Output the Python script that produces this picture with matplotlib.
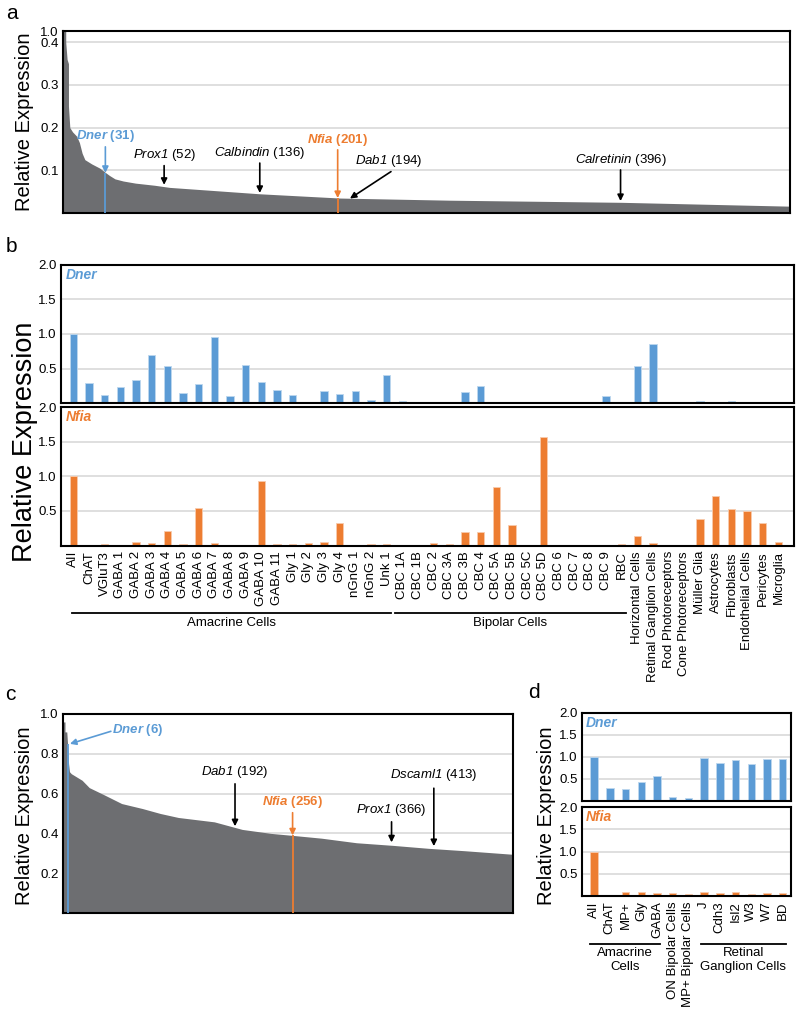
import numpy as np
import matplotlib
matplotlib.use('Agg')
import matplotlib.pyplot as plt

plt.rcParams['font.family'] = ['Liberation Sans', 'DejaVu Sans']
plt.rcParams['mathtext.fontset'] = 'custom'
# gene names are italic, digits inside them too
plt.rcParams['mathtext.rm'] = 'Liberation Sans:italic'
plt.rcParams['mathtext.it'] = 'Liberation Sans:italic'
plt.rcParams['mathtext.bf'] = 'Liberation Sans:bold:italic'

AZUL = '#5B9BD5'
NARANJA = '#ED7D31'
GRIS = '#6D6E71'
GRILLA = '#D9D9D9'

# --- panel a: genes sorted by relative expression (outline of the ranked curve)
rank_a = [0, 2, 2, 3, 4, 4, 5, 7, 10, 12, 14, 16, 21, 27, 31, 34, 38, 44, 53,
          67, 78, 144, 203, 283, 409, 532]
expr_a = [1.0, 1.0, 0.40, 0.36, 0.35, 0.25, 0.20, 0.19, 0.18, 0.165, 0.14,
          0.125, 0.115, 0.105, 0.095, 0.088, 0.08, 0.075, 0.07, 0.065, 0.06,
          0.045, 0.035, 0.030, 0.025, 0.016]
genes_a = ['Dner', 'Prox1', 'Calbindin', 'Nfia', 'Dab1', 'Calretinin']
generank_a = [31, 52, 136, 201, 194, 396]
geneexpr_a = [0.094, 0.066, 0.047, 0.035, 0.034, 0.028]

# --- panel b: expression per cell type
tipos_b = ['AII', 'ChAT', 'VGluT3', 'GABA 1', 'GABA 2', 'GABA 3', 'GABA 4', 'GABA 5',
           'GABA 6', 'GABA 7', 'GABA 8', 'GABA 9', 'GABA 10', 'GABA 11', 'Gly 1',
           'Gly 2', 'Gly 3', 'Gly 4', 'nGnG 1', 'nGnG 2', 'Unk 1',
           'CBC 1A', 'CBC 1B', 'CBC 2', 'CBC 3A', 'CBC 3B', 'CBC 4', 'CBC 5A',
           'CBC 5B', 'CBC 5C', 'CBC 5D', 'CBC 6', 'CBC 7', 'CBC 8', 'CBC 9', 'RBC',
           'Horizontal Cells', 'Retinal Ganglion Cells', 'Rod Photoreceptors',
           'Cone Photoreceptors', 'Müller Glia', 'Astrocytes', 'Fibroblasts',
           'Endothelial Cells', 'Pericytes', 'Microglia']
dner_b = [1.0, 0.29, 0.12, 0.23, 0.34, 0.69, 0.53, 0.14, 0.28, 0.96, 0.10, 0.55,
          0.31, 0.19, 0.11, 0.0, 0.18, 0.13, 0.18, 0.05, 0.40,
          0.03, 0.0, 0.0, 0.0, 0.16, 0.24, 0.0, 0.0, 0.0, 0.0, 0.0, 0.0, 0.015,
          0.10, 0.0, 0.53, 0.86, 0.0, 0.0, 0.034, 0.0, 0.025, 0.0, 0.0, 0.0]
nfia_b = [1.0, 0.0, 0.025, 0.0, 0.045, 0.035, 0.21, 0.025, 0.54, 0.035, 0.01, 0.01,
          0.93, 0.02, 0.025, 0.035, 0.045, 0.32, 0.01, 0.02, 0.025,
          0.0, 0.005, 0.03, 0.02, 0.20, 0.19, 0.84, 0.30, 0.0, 1.56, 0.0, 0.0, 0.01,
          0.0, 0.015, 0.13, 0.03, 0.0, 0.01, 0.38, 0.72, 0.53, 0.50, 0.33, 0.05]
grupos_b = ['Amacrine Cells', 'Bipolar Cells']
gruporango_b = [(-0.1, 20.3), (20.5, 35.3)]

# --- panel c: second dataset, ranked curve
rank_c = [1, 3, 3, 5, 6, 7, 8, 10, 22, 30, 46, 66, 89, 109, 129, 169, 200, 232,
          256, 288, 327, 367, 407, 447, 501]
expr_c = [0.96, 0.96, 0.91, 0.91, 0.84, 0.75, 0.71, 0.70, 0.667, 0.63, 0.595,
          0.55, 0.525, 0.50, 0.48, 0.458, 0.42, 0.40, 0.39, 0.376, 0.353, 0.34,
          0.325, 0.313, 0.295]
genes_c = ['Dner', 'Dab1', 'Nfia', 'Prox1', 'Dscaml1']
generank_c = [6, 192, 256, 366, 413]
geneexpr_c = [0.85, 0.436, 0.39, 0.355, 0.336]

# --- panel d
tipos_d = ['AII', 'ChAT', 'MP+', 'Gly', 'GABA', 'ON Bipolar Cells',
           'MP+ Bipolar Cells', 'J', 'Cdh3', 'Isl2', 'W3', 'W7', 'BD']
dner_d = [1.0, 0.29, 0.27, 0.42, 0.56, 0.09, 0.07, 0.98, 0.86, 0.93, 0.84, 0.95, 0.95]
nfia_d = [1.0, 0.015, 0.10, 0.09, 0.06, 0.06, 0.04, 0.09, 0.06, 0.09, 0.045, 0.06, 0.06]
grupos_d = ['Amacrine\nCells', 'Retinal\nGanglion Cells']
gruporango_d = [(-0.23, 4.2), (6.8, 12.2)]

W, H = 800, 1011
fig = plt.figure(figsize=(W / 100, H / 100), dpi=100)


def caja(l, t, r, b):
    return fig.add_axes([l / W, 1 - b / H, (r - l) / W, (b - t) / H])


def estilo(ax, ticks, labels):
    ax.set_yticks(ticks)
    ax.set_yticklabels(labels)
    ax.tick_params(length=0, labelsize=9.5, pad=3)
    ax.grid(axis='y', color=GRILLA, lw=1.2)
    ax.set_axisbelow(True)
    for s in ax.spines.values():
        s.set_linewidth(1.5)


def flecha(ax, tail, tip, color='black'):
    ax.annotate('', xy=tip, xytext=tail,
                arrowprops=dict(arrowstyle='-|>', color=color, lw=1.2,
                                mutation_scale=9, shrinkA=0, shrinkB=0))


def etiqueta(gen, rango, color=None):
    if color is None:
        return r'$\mathit{%s}$ (%d)' % (gen, rango)
    return r'$\mathbf{%s}$ (%d)' % (gen, rango)


# ---------------- a
ax = caja(63, 31, 790, 213)
ax.fill_between(rank_a, expr_a, color=GRIS, lw=0)
ax.set_xlim(0, 532)
ax.set_ylim(0, 0.4265)
ax.set_xticks([])
estilo(ax, [0.1, 0.2, 0.3, 0.4, 0.4265], ['0.1', '0.2', '0.3', '0.4', '1.0'])
ax.vlines(generank_a[0], 0, geneexpr_a[0], color=AZUL, lw=1.3, zorder=3)
ax.vlines(generank_a[3], 0, geneexpr_a[3], color=NARANJA, lw=1.3, zorder=3)
# break marks on the y axis
for yy in [0.405, 0.414]:
    ax.plot([-0.006, 0.006], [yy - 0.004, yy + 0.004], color='black', lw=1,
            clip_on=False, zorder=5)

# (text x, text y, tail, tip x, color)
pos_a = [(31, 0.162, (31, 0.155), None, AZUL),
         (74, 0.117, (74, 0.111), None, None),
         (144, 0.122, (144, 0.117), None, None),
         (201, 0.153, (201, 0.148), None, NARANJA),
         (238, 0.103, (240, 0.097), 210, None),
         (408, 0.106, (408, 0.101), None, None)]
for i, (tx, ty, tail, tipx, col) in enumerate(pos_a):
    kw = dict(color=col, fontweight='bold') if col else dict(color='black')
    ax.text(tx, ty, etiqueta(genes_a[i], generank_a[i], col), ha='center',
            va='bottom', fontsize=9.5, **kw)
    if tipx is None:
        tipx = tail[0]
    flecha(ax, tail, (tipx, geneexpr_a[i]), col or 'black')

# ---------------- b
ax1 = caja(61, 265, 794, 403)
ax2 = caja(61, 407, 794, 545.5)
x = np.arange(len(tipos_b))
for axx, vals, col, borde, nombre in [(ax1, dner_b, AZUL, '#BDD7EE', 'Dner'),
                                       (ax2, nfia_b, NARANJA, '#F8CBAD', 'Nfia')]:
    axx.bar(x, vals, width=0.47, color=col, edgecolor=borde, lw=0.6)
    axx.set_xlim(-0.785, 45.99)
    axx.set_ylim(0, 2.0)
    estilo(axx, [0.5, 1.0, 1.5, 2.0], ['0.5', '1.0', '1.5', '2.0'])
    axx.text(0.006, 0.93, nombre, transform=axx.transAxes, color=col,
             fontsize=10, fontstyle='italic', fontweight='bold', va='center')
ax1.set_xticks([])
ax2.set_xticks(x)
ax2.set_xticklabels(tipos_b, rotation=90, fontsize=9.5)
ax2.tick_params(axis='x', length=0, pad=4)
tr = ax2.get_xaxis_transform()
for nombre, (x0, x1) in zip(grupos_b, gruporango_b):
    ax2.plot([x0, x1], [-0.487, -0.487], transform=tr, color='black', lw=1.3,
             clip_on=False)
    ax2.text((x0 + x1) / 2, -0.56, nombre, transform=tr, ha='center',
             va='center', fontsize=9.5)

# ---------------- c
ax = caja(63, 714, 513, 913)
ax.fill_between(rank_c, expr_c, color=GRIS, lw=0)
ax.set_xlim(0.8, 501)
ax.set_ylim(0, 1.0)
ax.set_xticks([])
estilo(ax, [0.2, 0.4, 0.6, 0.8, 1.0], ['0.2', '0.4', '0.6', '0.8', '1.0'])
ax.vlines(generank_c[0], 0, geneexpr_c[0], color=AZUL, lw=1.3, zorder=3)
ax.vlines(generank_c[2], 0, geneexpr_c[2], color=NARANJA, lw=1.3, zorder=3)
ax.text(55, 0.922, etiqueta(genes_c[0], generank_c[0], AZUL), color=AZUL,
        fontweight='bold', ha='left', va='center', fontsize=9.5)
flecha(ax, (54, 0.913), (8.5, geneexpr_c[0]), AZUL)
pos_c = [(1, 0.667, 0.649, None), (2, 0.518, 0.504, NARANJA),
         (3, 0.476, 0.458, None), (4, 0.655, 0.627, None)]
for i, ty, tail, col in pos_c:
    kw = dict(color=col, fontweight='bold') if col else dict(color='black')
    ax.text(generank_c[i], ty, etiqueta(genes_c[i], generank_c[i], col),
            ha='center', va='bottom', fontsize=9.5, **kw)
    flecha(ax, (generank_c[i], tail), (generank_c[i], geneexpr_c[i]),
           col or 'black')

# ---------------- d
ax1 = caja(582, 712.5, 791, 801)
ax2 = caja(582, 807, 791, 896)
x = np.arange(len(tipos_d))
for axx, vals, col, borde, nombre in [(ax1, dner_d, AZUL, '#BDD7EE', 'Dner'),
                                       (ax2, nfia_d, NARANJA, '#F8CBAD', 'Nfia')]:
    axx.bar(x, vals, width=0.47, color=col, edgecolor=borde, lw=0.6)
    axx.set_xlim(-0.77, 12.53)
    axx.set_ylim(0, 2.0)
    estilo(axx, [0.5, 1.0, 1.5, 2.0], ['0.5', '1.0', '1.5', '2.0'])
    axx.text(0.02, 0.885, nombre, transform=axx.transAxes, color=col,
             fontsize=10, fontstyle='italic', fontweight='bold', va='center')
ax1.set_xticks([])
ax2.set_xticks(x)
ax2.set_xticklabels(tipos_d, rotation=90, fontsize=9.5)
ax2.tick_params(axis='x', length=0, pad=4)
tr = ax2.get_xaxis_transform()
for nombre, (x0, x1) in zip(grupos_d, gruporango_d):
    ax2.plot([x0, x1], [-0.54, -0.54], transform=tr, color='black', lw=1.3,
             clip_on=False)
    ax2.text((x0 + x1) / 2, -0.575, nombre, transform=tr, ha='center',
             va='top', fontsize=9.5, linespacing=1.25)

# ---------------- shared text
for letra, px, py in [('a', 11.7, 13.3), ('b', 11.7, 246.7), ('c', 10.7, 695),
                      ('d', 534.3, 692.7)]:
    fig.text(px / W, 1 - py / H, letra, fontsize=15, ha='center', va='center')
for px, py, fs in [(25, 122, 14.5), (25, 442, 19.5), (25, 816, 14.5),
                   (546, 816, 14.5)]:
    fig.text(px / W, 1 - py / H, 'Relative Expression', rotation=90,
             fontsize=fs, ha='center', va='center')

fig.savefig('out.png', dpi=100)
